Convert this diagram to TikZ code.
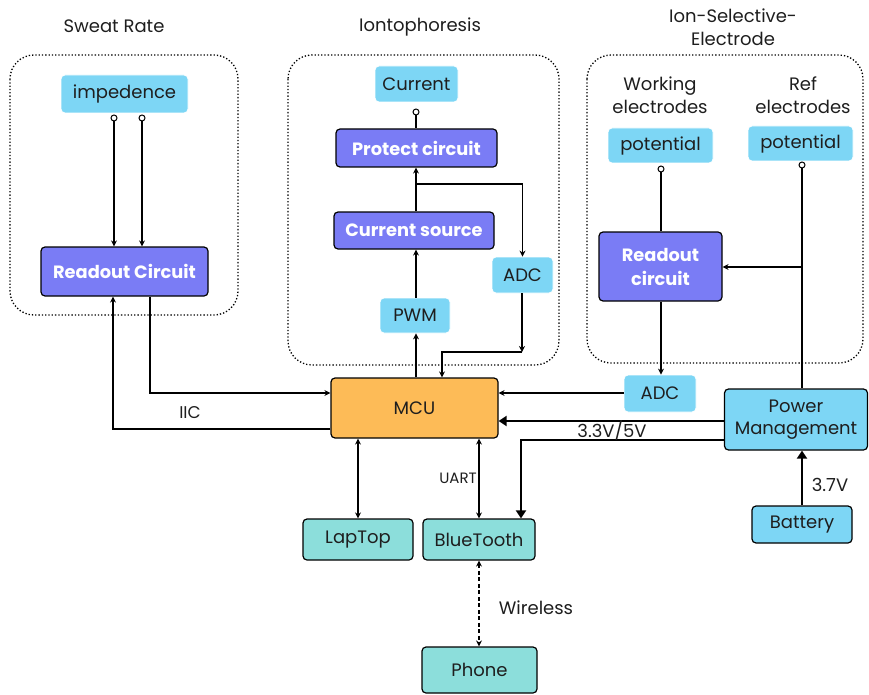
\documentclass[tikz,border=0pt]{standalone}
\usepackage{fontspec}
\setmainfont{Poppins}
\usetikzlibrary{arrows.meta}
\definecolor{lblue}{HTML}{7DD6F5}
\definecolor{purp}{HTML}{7A7CF5}
\definecolor{orng}{HTML}{FDBB57}
\definecolor{teal2}{HTML}{8CDEDB}
\definecolor{ink}{HTML}{1E1E1E}
\tikzset{
  base/.style={rounded corners=4pt, inner sep=0pt, align=center, font=\fontsize{18}{22}\selectfont, text=ink},
  lb/.style={base, fill=lblue, draw=white, line width=0.8pt},
  lbk/.style={base, fill=lblue, draw=black, line width=1.2pt},
  pb/.style={base, fill=purp, draw=black, line width=1.2pt, text=white, font=\fontsize{17.8}{24}\selectfont\bfseries},
  ob/.style={base, fill=orng, draw=black, line width=1.2pt},
  tb/.style={base, fill=teal2, draw=black, line width=1.2pt},
  grp/.style={draw=black, dotted, line width=1.3pt, rounded corners=24pt},
  ttl/.style={font=\fontsize{18}{23}\selectfont, text=ink, align=center},
  lbl/.style={font=\fontsize{17}{20}\selectfont, text=ink},
  arr/.style={draw=black, line width=1.2pt, -{Stealth[length=6pt,width=6pt]}},
  darr/.style={draw=black, line width=1.2pt, {Stealth[length=6pt,width=6pt]}-{Stealth[length=6pt,width=6pt]}},
  ln/.style={draw=black, line width=1.2pt},
  tarr/.style={draw=black, line width=2.6pt, -{Triangle[length=8pt,width=10pt]}},
  pin/.style={circle, draw=black, fill=white, line width=1pt, inner sep=0pt, minimum size=6pt},
}
\begin{document}
\begin{tikzpicture}[x=1pt,y=-1pt]
\useasboundingbox (0,0) rectangle (869,695);
% groups
\draw[grp] (10,55) rectangle (238,315);
\draw[grp] (288,55) rectangle (559,365);
\draw[grp] (587,55) rectangle (863,363);
\node[ttl] (t1) at (114,26) {Sweat Rate};
\node[ttl] (t2) at (420,27) {Iontophoresis};
\node[ttl] (t3) at (733,27) {Ion-Selective-\\Electrode};
\node[ttl] (t4) at (660,95) {Working\\electrodes};
\node[ttl] (t5) at (803,95) {Ref\\electrodes};
% nodes
\node[lb, minimum width=127pt, minimum height=38pt] (imp) at (124.5,94) {impedence};
\node[pb, minimum width=167pt, minimum height=49pt] (ro1) at (124.5,271.5) {Readout Circuit};
\node[lb, minimum width=83pt, minimum height=36pt] (cur) at (416.5,84) {Current};
\node[pb, minimum width=161pt, minimum height=38pt] (prot) at (416.5,148) {Protect circuit};
\node[pb, minimum width=160pt, minimum height=37pt] (csrc) at (414,230.5) {Current source};
\node[lb, minimum width=61pt, minimum height=36pt] (adc1) at (522.5,275) {ADC};
\node[lb, minimum width=70pt, minimum height=35pt] (pwm) at (415,315.5) {PWM};
\node[ob, minimum width=167pt, minimum height=60pt] (mcu) at (414.5,408) {MCU};
\node[lb, minimum width=105pt, minimum height=35pt] (pot1) at (660.5,145.5) {potential};
\node[lb, minimum width=105pt, minimum height=35pt] (pot2) at (800.5,143.5) {potential};
\node[pb, minimum width=123pt, minimum height=69pt] (ro2) at (660.5,266.5) {Readout\\circuit};
\node[lb, minimum width=72pt, minimum height=37pt] (adc2) at (660,393.5) {ADC};
\node[lbk, minimum width=143pt, minimum height=61pt] (pm) at (796,419.5) {Power\\Management};
\node[lbk, minimum width=100pt, minimum height=37pt] (bat) at (802,524.5) {Battery};
\node[tb, minimum width=110pt, minimum height=41pt] (lap) at (358,539.5) {LapTop};
\node[tb, minimum width=112pt, minimum height=41pt] (bt) at (479,539.5) {BlueTooth};
\node[tb, minimum width=115pt, minimum height=46pt] (phone) at (479.5,670) {Phone};
% coordinates
\coordinate (ip1) at (114,118);
\coordinate (ip2) at (142,118);
\coordinate (cp) at (416,112);
\coordinate (wp) at (661,169);
\coordinate (rp) at (802,165);
\coordinate (br1) at (416,184);
\coordinate (adcc) at (522,352);
\coordinate (rbr) at (802,267);
% sweat rate
\draw[arr] (ip1) -- (ip1 |- ro1.north);
\draw[arr] (ip2) -- (ip2 |- ro1.north);
\draw[arr] (ro1.south -| 150,0) |- (mcu.west |- 0,393);
\draw[arr] (mcu.west |- 0,429) -| (ro1.south -| 113,0);
\node[lbl] (iic) at (190,413) {IIC};
% iontophoresis
\draw[ln] (cp) -- (cp |- prot.north);
\draw[arr] (csrc.north -| br1) -- (prot.south -| br1);
\draw[arr] (br1) -| (adc1.north);
\draw[arr] (pwm.north -| br1) -- (csrc.south -| br1);
\draw[arr] (mcu.north -| br1) -- (pwm.south -| br1);
\draw[arr] (adc1.south -| adcc) -- (adcc);
\draw[arr] (adcc) -| (mcu.north -| 442,0);
% ISE
\draw[ln] (wp) -- (wp |- ro2.north);
\draw[ln] (rp) -- (rp |- pm.north);
\draw[arr] (rbr) -- (ro2.east |- rbr);
\draw[arr] (ro2.south -| wp) -- (adc2.north -| wp);
\draw[arr] (adc2.west |- 0,393) -- (mcu.east |- 0,393);
% power
\draw[tarr] (pm.west |- 0,421) -- (mcu.east |- 0,421);
\draw[tarr] (pm.west |- 0,440) -| (bt.north -| 521,0);
\draw[tarr] (bat.north) -- (pm.south -| bat.north);
\node[lbl, font=\fontsize{18}{20}\selectfont] (v1) at (612,431) {3.3V/5V};
\node[lbl, font=\fontsize{18}{20}\selectfont] (v2) at (830,485) {3.7V};
% bottom
\draw[darr] (mcu.south -| lap.north) -- (lap.north);
\draw[darr] (mcu.south -| 479,0) -- (bt.north -| 479,0);
\node[lbl, font=\fontsize{15}{18}\selectfont] (uart) at (458,478) {UART};
\draw[darr, dashed, dash pattern=on 4pt off 2.5pt] (bt.south -| 479,0) -- (phone.north -| 479,0);
\node[ttl] (wl) at (536,608) {Wireless};
% pins
\node[pin] at (ip1) {};
\node[pin] at (ip2) {};
\node[pin] at (cp) {};
\node[pin] at (wp) {};
\node[pin] at (rp) {};
\end{tikzpicture}
\end{document}
